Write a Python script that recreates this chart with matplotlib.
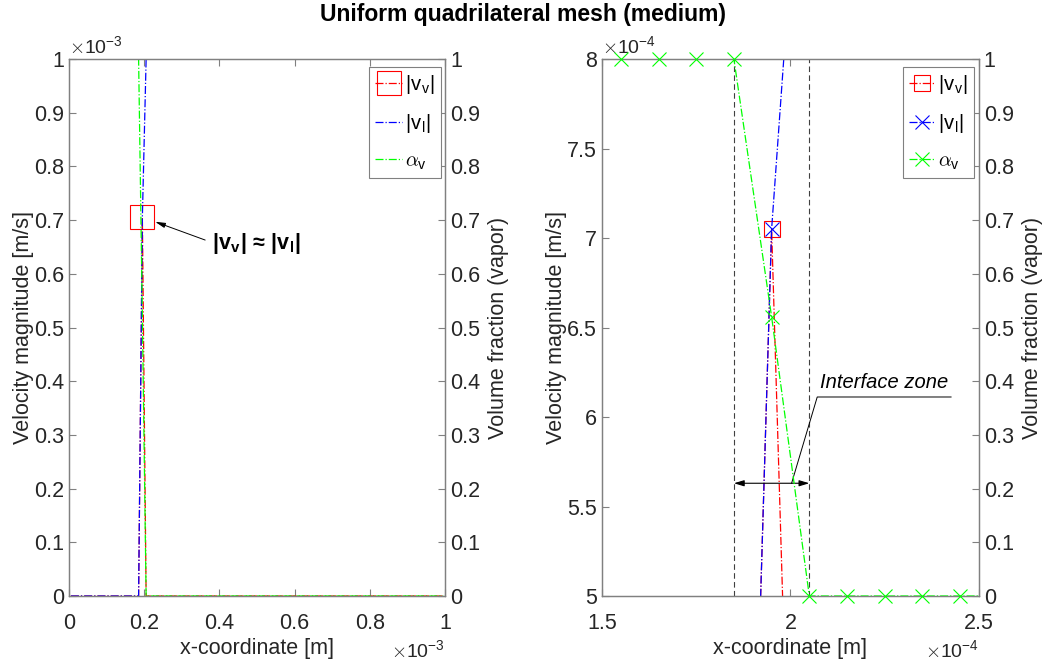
import numpy as np
import matplotlib
matplotlib.use('Agg')
import matplotlib.pyplot as plt
from matplotlib.lines import Line2D
from matplotlib.ticker import FuncFormatter

plt.rcParams['font.family'] = ['Liberation Sans', 'DejaVu Sans']
plt.rcParams['mathtext.fontset'] = 'cm'

# cell centres [m] and the fields
x_cell = [5e-6, 1.45e-4, 1.55e-4, 1.65e-4, 1.75e-4, 1.85e-4, 1.95e-4,
          2.05e-4, 2.15e-4, 2.25e-4, 2.35e-4, 2.45e-4, 2.55e-4, 9.95e-4]
v_vap = [0, 0, 0, 0, 0, 0, 7.05e-4, 0, 0, 0, 0, 0, 0, 0]
v_liq = [0, 0, 0, 0, 0, 0, 7.05e-4, 1e-3, 1e-3, 1e-3, 1e-3, 1e-3, 1e-3, 1e-3]
alpha_v = [1, 1, 1, 1, 1, 1, 0.52, 0, 0, 0, 0, 0, 0, 0]
i_peak = 6

zone_lo, zone_hi = 1.85e-4, 2.05e-4
zone_arrow_y = 5.63e-4

LAB_V = '|v$_\\mathregular{v}$|'
LAB_L = '|v$_\\mathregular{l}$|'
LAB_A = '$\\alpha_\\mathregular{v}$'
GRIS = '#808080'
TXT = '#262626'
FS = 15.5

fig = plt.figure(figsize=(10.46, 6.62), dpi=100)
fig.patch.set_facecolor('white')


def eksen_ayarla(ax, ax2, xlim, ylim, xstep, ystep, olcek):
    ax.set_xlim(*xlim); ax.set_ylim(*ylim); ax2.set_ylim(0, 1)
    ax.set_xticks(np.arange(xlim[0], xlim[1] + xstep / 2, xstep))
    ax.set_yticks(np.arange(ylim[0], ylim[1] + ystep / 2, ystep))
    ax2.set_yticks(np.arange(0, 1.05, 0.1))
    f = FuncFormatter(lambda v, _: f'{v / olcek:g}')
    ax.xaxis.set_major_formatter(f); ax.yaxis.set_major_formatter(f)
    ax2.yaxis.set_major_formatter(FuncFormatter(lambda v, _: f'{v:g}'))
    for a in (ax, ax2):
        for s in a.spines.values():
            s.set_color(GRIS); s.set_linewidth(0.9)
        a.tick_params(direction='in', length=5, width=0.8, color=GRIS,
                      labelsize=FS, labelcolor=TXT)
    ax.tick_params(top=True)
    ax.tick_params(axis='x', pad=12)
    ax.set_xlabel('x-coordinate [m]', fontsize=FS, color=TXT, labelpad=3)
    ax.set_ylabel('Velocity magnitude [m/s]', fontsize=FS, color=TXT, labelpad=0)
    ax2.set_ylabel('Volume fraction (vapor)', fontsize=FS, color=TXT, labelpad=6)
    us = int(round(np.log10(olcek)))
    ax.text(0.0, 1.004, '$\\times\\mathregular{10^{%d}}$' % us, transform=ax.transAxes,
            ha='left', va='bottom', fontsize=14, color=TXT)
    ax.text(1.0, -0.10, '$\\times\\mathregular{10^{%d}}$' % us, transform=ax.transAxes,
            ha='right', va='center', fontsize=14, color=TXT)


# ---- sol panel
ax = fig.add_axes([0.066, 0.0997, 0.3595, 0.811])
ax2 = ax.twinx()
ax.plot(x_cell, v_vap, color='r', ls='-.', lw=0.9, marker='s', ms=17, mfc='none',
        mew=0.8, markevery=[i_peak])
ax.plot(x_cell, v_liq, color='b', ls='-.', lw=0.9)
ax2.plot(x_cell, alpha_v, color=(0, 1, 0), ls='-.', lw=0.9)
eksen_ayarla(ax, ax2, (0, 1e-3), (0, 1e-3), 2e-4, 1e-4, 1e-3)

ax.annotate('', xy=(0.229e-3, 0.697e-3), xytext=(0.362e-3, 0.663e-3),
            arrowprops=dict(arrowstyle='-|>,head_length=0.6,head_width=0.15',
                            color='k', lw=0.7, shrinkA=0, shrinkB=0))
ax.text(0.38e-3, 0.656e-3, '|v$_\\mathregular{v}$| \u2248 |v$_\\mathregular{l}$|',
        fontsize=15.5, fontweight='bold', ha='left', va='center')

h = [Line2D([], [], color='r', ls='-.', lw=0.9, marker='s', ms=17, mfc='none', mew=0.8),
     Line2D([], [], color='b', ls='-.', lw=0.9),
     Line2D([], [], color=(0, 1, 0), ls='-.', lw=0.9)]
leg = ax2.legend(h, [LAB_V, LAB_L, LAB_A], loc='upper right', bbox_to_anchor=(0.988, 0.985),
                 fontsize=14.5, frameon=True, fancybox=False, framealpha=1, edgecolor=GRIS,
                 handlelength=1.3, handletextpad=0.15, labelspacing=0.8, borderpad=0.3,
                 borderaxespad=0)
leg.get_frame().set_linewidth(0.8)

# ---- sag panel (yakin plan)
bx = fig.add_axes([0.5755, 0.0997, 0.3604, 0.811])
bx2 = bx.twinx()
bx.plot(x_cell, v_vap, color='r', ls='-.', lw=0.9, marker='s', ms=11, mfc='none', mew=0.8)
bx.plot(x_cell, v_liq, color='b', ls='-.', lw=0.9, marker='x', ms=10, mew=0.8)
bx2.plot(x_cell, alpha_v, color=(0, 1, 0), ls='-.', lw=0.9)
xa = np.array(x_cell)
ic = np.where((xa >= 1.5e-4) & (xa <= 2.5e-4))[0]
bx2.plot(xa[ic], np.array(alpha_v)[ic], ls='none', color=(0, 1, 0), marker='x',
         ms=10, mew=0.8, clip_on=False, zorder=5)
for xz in (zone_lo, zone_hi):
    bx.axvline(xz, color='#404040', ls=(0, (5, 3)), lw=0.8)
eksen_ayarla(bx, bx2, (1.5e-4, 2.5e-4), (5e-4, 8e-4), 5e-5, 5e-5, 1e-4)

bx.annotate('', xy=(zone_lo, zone_arrow_y), xytext=(zone_hi, zone_arrow_y),
            arrowprops=dict(arrowstyle='<|-|>,head_length=0.6,head_width=0.18',
                            color='k', lw=0.8, shrinkA=0, shrinkB=0))
bx.plot([2.003e-4, 2.071e-4, 2.426e-4], [zone_arrow_y, 6.112e-4, 6.112e-4],
        color='k', lw=0.7)
bx.text(2.249e-4, 6.14e-4, 'Interface zone', fontsize=14.5, style='italic',
        ha='center', va='bottom')

h2 = [Line2D([], [], color='r', ls='-.', lw=0.9, marker='s', ms=11, mfc='none', mew=0.8),
      Line2D([], [], color='b', ls='-.', lw=0.9, marker='x', ms=10, mew=0.8),
      Line2D([], [], color=(0, 1, 0), ls='-.', lw=0.9, marker='x', ms=10, mew=0.8)]
leg2 = bx2.legend(h2, [LAB_V, LAB_L, LAB_A], loc='upper right', bbox_to_anchor=(0.988, 0.985),
                  fontsize=14.5, frameon=True, fancybox=False, framealpha=1, edgecolor=GRIS,
                  handlelength=1.3, handletextpad=0.15, labelspacing=0.8, borderpad=0.3,
                  borderaxespad=0)
leg2.get_frame().set_linewidth(0.8)

fig.suptitle('Uniform quadrilateral mesh (medium)', fontsize=16.5, fontweight='bold',
             y=0.995, va='top')

plt.savefig('out.png', dpi=100, facecolor='white')
plt.close()
